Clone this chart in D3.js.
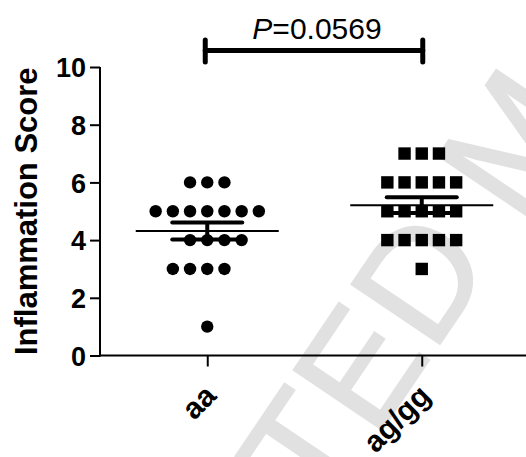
<!DOCTYPE html>
<html>
<head>
<meta charset="utf-8">
<script src="https://cdn.jsdelivr.net/npm/d3@7"></script>
<style>
  html, body { margin: 0; padding: 0; background: #fff; }
  svg { display: block; }
  text { font-family: Arial, "Liberation Sans", Helvetica, sans-serif; }
</style>
</head>
<body>
<svg id="chart" width="526" height="457"></svg>
<script>
// ---- data ----
const categories = ["aa", "ag/gg"];
const aaScores = [6, 6, 6, 5, 5, 5, 5, 5, 5, 5, 4, 4, 4, 4, 3, 3, 3, 3, 1];
const agggScores = [7, 7, 7, 6, 6, 6, 6, 6, 5, 5, 5, 5, 5, 4, 4, 4, 4, 4, 3];
const yTicks = [0, 2, 4, 6, 8, 10];
const yTitle = "Inflammation Score";
const pValueText = "=0.0569";
const watermark = "ACCEPTED MANUSCRIPT";

const groups = [
  { name: categories[0], values: aaScores, shape: "circle" },
  { name: categories[1], values: agggScores, shape: "square" }
];

// ---- layout ----
const svg = d3.select("#chart");
const W = 526, H = 457;
const mLeft = 100, mTop = 67, mBottom = 355.5, mRight = 529;

// watermark
const wmSize = 155, wmAng = 56, wmRad = wmAng * Math.PI / 180;
svg.append("text")
  .attr("transform", `translate(${512 + Math.sin(wmRad) * 0.358 * wmSize},${138 + Math.cos(wmRad) * 0.358 * wmSize}) rotate(${-wmAng})`)
  .attr("text-anchor", "middle")
  .attr("font-size", wmSize)
  .attr("fill", "#e1e1e1")
  .attr("stroke", "#e1e1e1").attr("stroke-width", 2)
  .text(watermark);

const y = d3.scaleLinear().domain([0, 10]).range([mBottom, mTop]);
const x = d3.scalePoint().domain(categories).range([mLeft, mRight]).padding(0.5);

// y axis
const yAxis = svg.append("g")
  .attr("transform", `translate(${mLeft},0)`)
  .call(d3.axisLeft(y).tickValues(yTicks).tickSize(10).tickPadding(4).tickSizeOuter(0));
yAxis.select(".domain").attr("stroke-width", 2).attr("d", `M0,${mBottom + 1}V${mTop}`);
yAxis.selectAll(".tick line").attr("stroke-width", 2);
yAxis.selectAll(".tick text")
  .attr("font-size", 27).attr("font-weight", "bold").attr("fill", "#000")
  .attr("font-family", "Arial, 'Liberation Sans', sans-serif")
  .attr("dy", "0.36em");

// x axis
const xAxis = svg.append("g")
  .attr("transform", `translate(0,${mBottom})`)
  .call(d3.axisBottom(x).tickSize(11).tickSizeOuter(0));
xAxis.select(".domain").attr("stroke-width", 2).attr("d", `M${mLeft - 1},0H${W + 5}`);
xAxis.selectAll(".tick line").attr("stroke-width", 2);
xAxis.selectAll(".tick text").remove();
xAxis.selectAll(".tick").append("text")
  .attr("transform", "translate(10,42) rotate(-45)")
  .attr("text-anchor", "end")
  .attr("font-size", 30).attr("font-weight", "bold").attr("fill", "#000")
  .attr("font-family", "Arial, 'Liberation Sans', sans-serif")
  .text(d => d);

// y title
svg.append("text")
  .attr("transform", `translate(37,${(mTop + mBottom) / 2}) rotate(-90)`)
  .attr("text-anchor", "middle")
  .attr("font-size", 31).attr("font-weight", "bold")
  .text(yTitle);

// ---- scatter points ----
const step = 17.2, r = 6.2, sq = 12.4;
groups.forEach(g => {
  const cx = x(g.name);
  const rows = d3.groups(g.values, v => v).sort((a, b) => b[0] - a[0]);
  let rightBias = true;
  const pts = [];
  rows.forEach(([v, arr]) => {
    const n = arr.length;
    let start;
    if (n % 2 === 1) start = -(n - 1) / 2;
    else { start = rightBias ? -(n / 2 - 1) : -n / 2; rightBias = !rightBias; }
    arr.forEach((_, i) => pts.push({ v, off: start + i }));
  });
  const gg = svg.append("g");
  if (g.shape === "circle") {
    gg.selectAll("circle").data(pts).join("circle")
      .attr("cx", d => cx + d.off * step)
      .attr("cy", d => y(d.v))
      .attr("r", r).attr("fill", "#000");
  } else {
    gg.selectAll("rect").data(pts).join("rect")
      .attr("x", d => cx + d.off * step - sq / 2)
      .attr("y", d => y(d.v) - sq / 2)
      .attr("width", sq).attr("height", sq).attr("fill", "#000");
  }
  // mean and SEM
  const mean = d3.mean(g.values);
  const sem = d3.deviation(g.values) / Math.sqrt(g.values.length);
  gg.append("line")
    .attr("x1", cx - 71.5).attr("x2", cx + 71.5)
    .attr("y1", y(mean)).attr("y2", y(mean))
    .attr("stroke", "#000").attr("stroke-width", 2);
  [mean + sem, mean - sem].forEach(val => {
    gg.append("line")
      .attr("x1", cx - 35).attr("x2", cx + 35)
      .attr("y1", y(val)).attr("y2", y(val))
      .attr("stroke", "#000").attr("stroke-width", 4).attr("stroke-linecap", "round");
  });
  gg.append("line")
    .attr("x1", cx).attr("x2", cx)
    .attr("y1", y(mean + sem)).attr("y2", y(mean - sem))
    .attr("stroke", "#000").attr("stroke-width", 4);
});

// ---- significance bracket ----
const bx1 = x(categories[0]) - 2, bx2 = x(categories[1]) + 1, by = 50.5;
const br = svg.append("g").attr("stroke", "#000").attr("stroke-linecap", "round");
br.append("line").attr("x1", bx1).attr("x2", bx2).attr("y1", by).attr("y2", by).attr("stroke-width", 5);
br.append("line").attr("x1", bx1).attr("x2", bx1).attr("y1", 40).attr("y2", 62).attr("stroke-width", 5);
br.append("line").attr("x1", bx2).attr("x2", bx2).attr("y1", 40).attr("y2", 62).attr("stroke-width", 5);

const pt = svg.append("text")
  .attr("x", (bx1 + bx2) / 2 + 3).attr("y", 38.5)
  .attr("text-anchor", "middle")
  .attr("font-size", 30).attr("fill", "#000");
pt.append("tspan").attr("font-style", "italic").text("P");
pt.append("tspan").text(pValueText);
</script>
</body>
</html>
